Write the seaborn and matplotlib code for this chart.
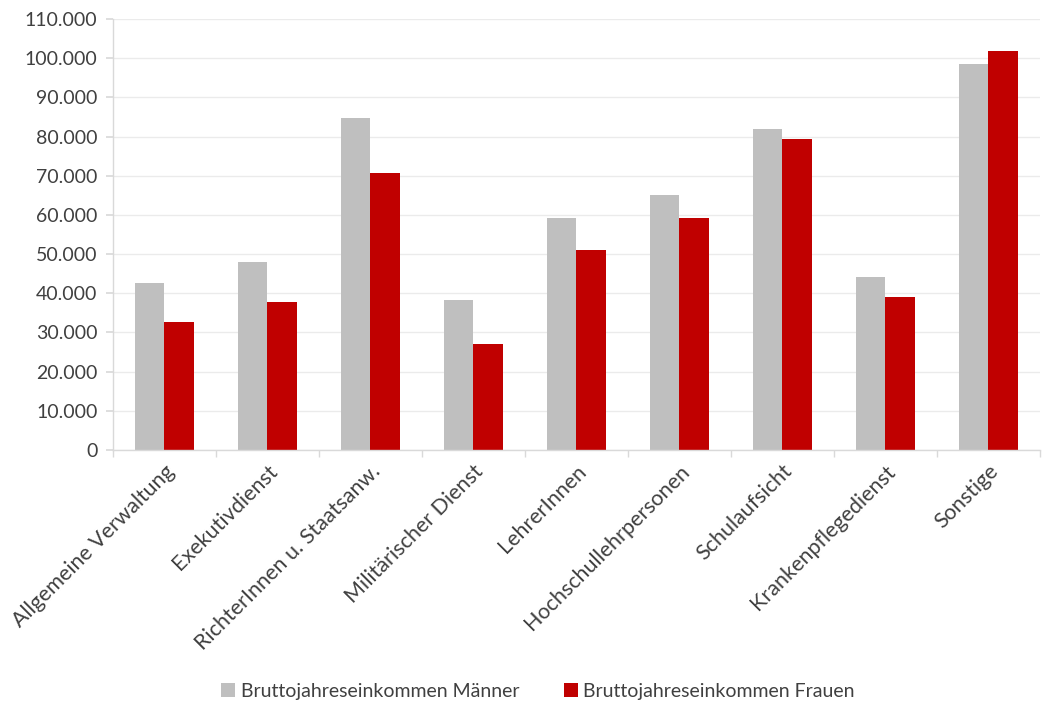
import numpy as np
import pandas as pd
import matplotlib.pyplot as plt
import seaborn as sns
from matplotlib.ticker import FuncFormatter, FixedLocator

# Daten
kategorien = ['Allgemeine Verwaltung', 'Exekutivdienst', 'RichterInnen u. Staatsanw.',
              'Militärischer Dienst', 'LehrerInnen', 'Hochschullehrpersonen',
              'Schulaufsicht', 'Krankenpflegedienst', 'Sonstige']
maenner = [42500, 47900, 84600, 38200, 59100, 65100, 81900, 44100, 98400]
frauen = [32700, 37800, 70600, 27000, 51000, 59100, 79300, 39100, 101800]
serien = ['Bruttojahreseinkommen Männer', 'Bruttojahreseinkommen Frauen']
farben = ['#BFBFBF', '#C00000']
y_ticks = list(range(0, 110001, 10000))

df = pd.DataFrame({
    'Kategorie': kategorien * 2,
    'Wert': maenner + frauen,
    'Serie': [serien[0]] * len(kategorien) + [serien[1]] * len(kategorien),
})

sns.set_theme(style='white')
plt.rcParams['font.family'] = ['Lato', 'DejaVu Sans']

fig = plt.figure(figsize=(10.45, 7.02), dpi=100)
ax = fig.add_axes([0.108, 0.359, 0.887, 0.614])

sns.barplot(data=df, x='Kategorie', y='Wert', hue='Serie', hue_order=serien,
            palette=farben, width=0.57, saturation=1, linewidth=0, ax=ax, legend=True)

ax.set_ylim(0, 110000)
ax.set_xlim(-0.5, len(kategorien) - 0.5)
ax.yaxis.set_major_locator(FixedLocator(y_ticks))
ax.yaxis.set_major_formatter(FuncFormatter(lambda v, p: f'{int(v):,}'.replace(',', '.')))
ax.grid(axis='y', color='#EBEBEB', linewidth=1.0)
ax.set_axisbelow(True)

for s in ['top', 'right']:
    ax.spines[s].set_visible(False)
ax.spines['left'].set_color('#D9D9D9')
ax.spines['bottom'].set_color('#D9D9D9')
ax.spines['left'].set_linewidth(1.0)
ax.spines['bottom'].set_linewidth(1.0)

ax.set_xlabel('')
ax.set_ylabel('')
ax.tick_params(axis='y', labelsize=14, labelcolor='#404040', length=5, color='#D9D9D9',
               left=True, pad=6)
ax.set_xticks(range(len(kategorien)))
ax.set_xticklabels(kategorien, rotation=45, ha='right', rotation_mode='anchor',
                   fontsize=15.5, color='#404040')
ax.tick_params(axis='x', length=0, pad=8)
ax.set_xticks(np.arange(-0.5, len(kategorien), 1.0), minor=True)
ax.tick_params(axis='x', which='minor', length=5, color='#D9D9D9', bottom=True)

ax.legend_.remove()
handles, labels = ax.get_legend_handles_labels()
fig.legend(handles[:2], labels[:2], loc='lower center', bbox_to_anchor=(0.515, -0.022),
           ncol=2, frameon=False, fontsize=14, handlelength=0.7, handleheight=0.7,
           handletextpad=0.3, columnspacing=2.3, labelcolor='#404040')

plt.savefig('out.png', dpi=100)
plt.close()
